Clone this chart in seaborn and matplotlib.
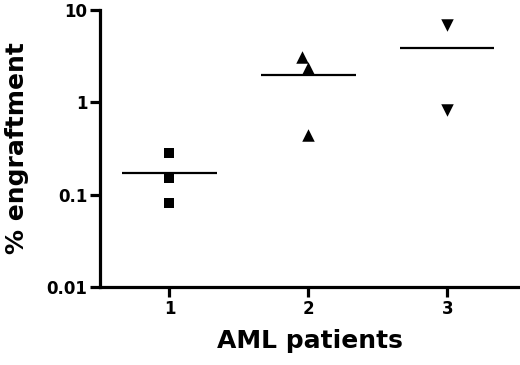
import numpy as np
import pandas as pd
import matplotlib
matplotlib.use("Agg")
import matplotlib.pyplot as plt
import seaborn as sns

# Data
patients = ["1", "2", "3"]
patient1 = [0.28, 0.151, 0.081]
patient2 = [3.1, 2.35, 0.44]
patient3 = [6.9, 0.826]
markers = ["s", "^", "v"]
marker_sizes = [7.5, 9, 9]
ytick_values = [0.01, 0.1, 1, 10]
ytick_labels = ["0.01", "0.1", "1", "10"]

values = [patient1, patient2, patient3]
df = pd.DataFrame({
    "patient": [p for p, v in zip(patients, values) for _ in v],
    "engraftment": [x for v in values for x in v],
})

sns.set_style("ticks")
plt.rcParams["font.family"] = ["DejaVu Sans"]
plt.rcParams["font.weight"] = "bold"
for k in ["text.color", "axes.labelcolor", "xtick.color", "ytick.color", "axes.edgecolor"]:
    plt.rcParams[k] = "black"

fig = plt.figure(figsize=(5.2, 3.65), dpi=100)
ax = fig.add_axes([100/520, 1 - 287/365, 1 - 100/520 - 0.001, (287 - 10)/365])
ax.set_yscale("log")

for p, m, sz in zip(patients, markers, marker_sizes):
    sub = df[df["patient"] == p]
    sns.swarmplot(data=sub, x="patient", y="engraftment", order=patients,
                  marker=m, color="black", size=sz, ax=ax, linewidth=0)

means = df.groupby("patient", sort=False)["engraftment"].mean()
for i, p in enumerate(patients):
    ax.hlines(means[p], i - 0.34, i + 0.34, color="black", linewidth=1.6, zorder=1)

ax.set_xlim(-0.5, 2.52)
ax.set_ylim(0.01, 10)
ax.yaxis.set_major_locator(matplotlib.ticker.FixedLocator(ytick_values))
ax.yaxis.set_minor_locator(matplotlib.ticker.NullLocator())
ax.set_yticklabels(ytick_labels)
ax.set_xticks(range(len(patients)))
ax.set_xticklabels(patients)

for s in ["top", "right"]:
    ax.spines[s].set_visible(False)
for s in ["left", "bottom"]:
    ax.spines[s].set_linewidth(2.3)
    ax.spines[s].set_color("black")
ax.tick_params(axis="both", direction="out", length=7, width=2.3, color="black",
               labelcolor="black", labelsize=12, pad=2)
for lab in ax.get_xticklabels() + ax.get_yticklabels():
    lab.set_fontweight("bold")

ax.set_xlabel("AML patients", fontsize=18, fontweight="bold", labelpad=8, color="black")
ax.set_ylabel("% engraftment", fontsize=18, fontweight="bold", labelpad=13, color="black")

fig.savefig("out.png", dpi=100)
